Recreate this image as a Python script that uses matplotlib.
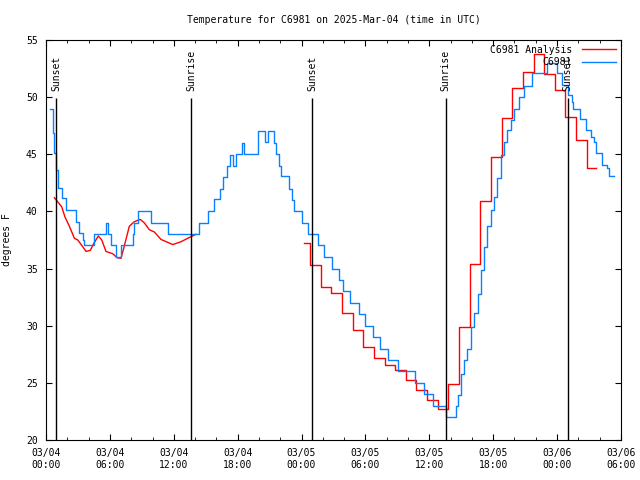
import numpy as np
import matplotlib
matplotlib.use("Agg")
import matplotlib.pyplot as plt

plt.rcParams['font.family'] = ['DejaVu Sans Mono']
plt.rcParams['font.size'] = 7

# hours since 03/04 00:00 UTC
red1_t = [0.78, 1.47, 1.78, 2.19, 2.66, 2.98, 3.45, 3.76, 4.16, 4.48, 4.91, 5.23, 5.63,
          6.26, 6.67, 7.04, 7.30, 7.82, 8.29, 8.85, 9.23, 9.70, 10.17, 10.80, 11.90,
          12.68, 13.31, 14.08]
red1_v = [41.2, 40.4, 39.5, 38.7, 37.65, 37.5, 36.9, 36.5, 36.6, 37.2, 37.85, 37.5, 36.5,
          36.3, 35.95, 35.9, 36.8, 38.7, 39.1, 39.3, 39.0, 38.4, 38.2, 37.55, 37.1,
          37.35, 37.65, 38.0]

red2_t = [24.2, 24.8, 25.8, 26.8, 27.8, 28.8, 29.8, 30.8, 31.8, 32.8, 33.8, 34.8, 35.8,
          36.8, 37.8, 38.8, 39.8, 40.8, 41.8, 42.8, 43.8, 44.8, 45.8, 46.8, 47.8, 48.8,
          49.8, 50.8, 51.7]
red2_v = [37.2, 35.3, 33.4, 32.9, 31.1, 29.6, 28.1, 27.2, 26.6, 26.1, 25.25, 24.4, 23.5,
          22.7, 24.9, 29.9, 35.4, 40.9, 44.8, 48.2, 50.8, 52.2, 53.75, 52.0, 50.6, 48.3,
          46.25, 43.8, 43.8]

obs_t = [0.40, 0.63, 0.78, 0.91, 1.10, 1.47, 1.88, 2.82, 3.13, 3.45, 3.60, 4.54, 5.42,
         5.60, 5.80, 6.10, 6.57, 7.04, 8.14, 8.30, 8.61, 9.85, 11.50, 14.40, 15.18,
         15.80, 16.30, 16.59, 17.00, 17.31, 17.59, 17.84, 18.38, 18.62, 19.88, 20.60,
         20.87, 21.44, 21.60, 21.85, 22.07, 22.85, 23.10, 23.32, 24.00, 24.57, 25.57,
         26.07, 26.13, 26.83, 27.54, 27.92, 28.57, 29.36, 29.95, 30.73, 31.39, 32.08,
         33.08, 34.68, 35.52, 36.40, 37.56, 38.50, 38.66, 38.97, 39.28, 39.59, 39.91,
         40.22, 40.54, 40.85, 41.15, 41.47, 41.78, 42.10, 42.41, 42.72, 43.03, 43.35,
         43.66, 43.97, 44.44, 44.91, 45.70, 47.04, 47.98, 48.52, 49.08, 49.46, 49.55,
         50.17, 50.77, 51.17, 51.48, 51.64, 52.27, 52.74, 52.89, 53.36]
obs_v = [49.0, 46.9, 45.1, 43.6, 42.05, 41.2, 40.1, 39.1, 38.1, 37.5, 37.1, 38.0, 38.0,
         39.0, 38.0, 37.1, 36.0, 37.1, 38.0, 39.0, 40.0, 39.0, 38.0, 39.0, 40.0,
         41.1, 42.0, 43.0, 44.0, 44.9, 44.0, 45.0, 46.0, 45.0, 47.0, 46.1,
         47.0, 46.0, 45.0, 44.0, 43.1, 42.0, 41.0, 40.0, 39.0, 38.0, 37.1,
         36.5, 36.0, 35.0, 34.0, 33.0, 32.0, 31.0, 30.0, 29.0, 28.0, 27.0,
         26.0, 25.0, 24.0, 23.0, 22.0, 22.95, 23.9, 25.8, 27.0, 28.0, 29.9,
         31.1, 32.8, 34.9, 36.9, 38.7, 40.1, 41.3, 42.9, 44.9, 46.1, 47.1,
         48.0, 49.0, 50.0, 51.0, 52.1, 53.0, 52.1, 51.1, 50.2, 49.6, 49.0,
         48.05, 47.1, 46.5, 46.1, 45.1, 44.1, 43.8, 43.1, 43.1]

sun_t = [0.97, 13.62, 24.98, 37.56, 49.01]
sun_lbl = ['Sunset', 'Sunrise', 'Sunset', 'Sunrise', 'Sunset']

xticks = [0, 6, 12, 18, 24, 30, 36, 42, 48, 54]
xlabels = ['03/04\n00:00', '03/04\n06:00', '03/04\n12:00', '03/04\n18:00',
           '03/05\n00:00', '03/05\n06:00', '03/05\n12:00', '03/05\n18:00',
           '03/06\n00:00', '03/06\n06:00']

fig = plt.figure(figsize=(6.4, 4.8), dpi=100)
ax = fig.add_axes([0.072, 0.0833, 0.898, 0.8334])

ax.plot(red1_t, red1_v, color='#ff0000', lw=1, label='C6981 Analysis')
ax.plot(red2_t, red2_v, color='#ff0000', lw=1, drawstyle='steps-post')
ax.plot(obs_t, obs_v, color='#0a80ff', lw=1, drawstyle='steps-post', label='C6981')

ax.vlines(sun_t, 20, 49.9, color='black', lw=1)
for t, s in zip(sun_t, sun_lbl):
    ax.text(t, 50.5, s, rotation=90, ha='center', va='bottom', fontsize=7)

ax.set_xlim(0, 54)
ax.set_ylim(20, 55)
ax.set_xticks(xticks)
ax.set_xticklabels(xlabels)
ax.set_xticks(np.arange(0, 55, 2), minor=True)
ax.set_yticks(np.arange(20, 56, 5))
ax.tick_params(direction='in', top=True, right=True, which='both', length=4)
ax.tick_params(which='minor', length=2.5)
ax.tick_params(axis='x', pad=6)
ax.tick_params(axis='y', pad=6)
ax.set_ylabel('degrees F', labelpad=10)
ax.set_title('Temperature for C6981 on 2025-Mar-04 (time in UTC)', fontsize=7, pad=12)

ax.legend(loc='upper right', frameon=False, markerfirst=False, handlelength=3.5,
          borderaxespad=0.2, borderpad=0.3, labelspacing=0.25, handletextpad=1.0,
          fontsize=7)

fig.savefig('out.png', dpi=100)
